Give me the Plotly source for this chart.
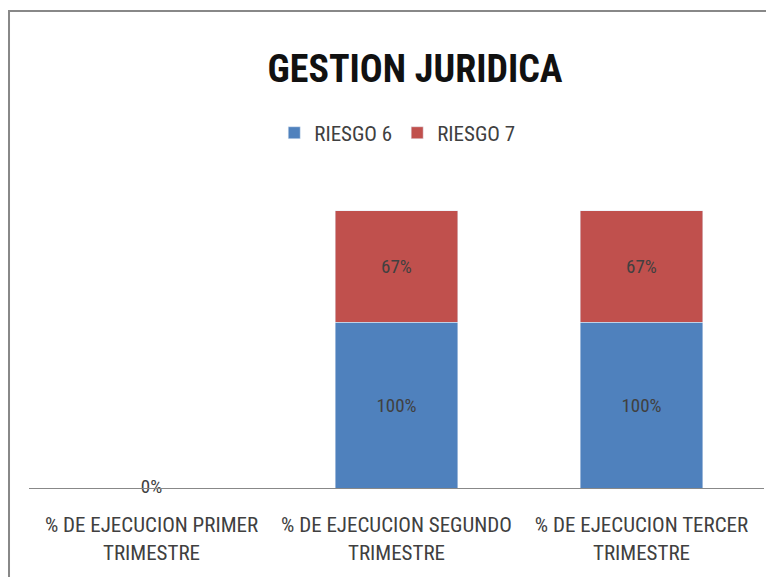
import plotly.graph_objects as go

categories = ["% DE EJECUCION PRIMER<br>TRIMESTRE",
              "% DE EJECUCION SEGUNDO<br>TRIMESTRE",
              "% DE EJECUCION TERCER<br>TRIMESTRE"]
riesgo6 = [0, 100, 100]
riesgo7 = [0, 67, 67]

FONT = "Liberation Sans Narrow, Roboto Condensed, DejaVu Sans Condensed, Arial Narrow, sans-serif"
BLUE = "#4F81BD"
RED = "#C0504D"
TXT = "#404040"

fig = go.Figure()
fig.add_trace(go.Bar(
    x=categories, y=riesgo6, name="RIESGO 6", marker_color=BLUE,
    text=[f"{v}%" if v else "" for v in riesgo6], textposition="inside",
    insidetextanchor="middle", textfont=dict(color=TXT, size=19, family=FONT),
))
fig.add_trace(go.Bar(
    x=categories, y=riesgo7, name="RIESGO 7", marker_color=RED,
    text=[f"{v}%" if v else "" for v in riesgo7], textposition="inside",
    insidetextanchor="middle", textfont=dict(color=TXT, size=19, family=FONT),
))
zero_x = [c for c, a, b in zip(categories, riesgo6, riesgo7) if a + b == 0]
fig.add_trace(go.Scatter(
    x=zero_x, y=[0] * len(zero_x), mode="text", text=["0%"] * len(zero_x),
    textposition="middle center", textfont=dict(color=TXT, size=19, family=FONT),
    showlegend=False, cliponaxis=False, hoverinfo="skip",
))

fig.update_layout(
    barmode="stack",
    bargap=0.5,
    width=758, height=569,
    margin=dict(l=21, r=2, t=148, b=89, autoexpand=False),
    paper_bgcolor="white", plot_bgcolor="white",
    title=dict(text="<b>GESTION JURIDICA</b>", x=0.537, xanchor="center",
               y=0.893, yanchor="middle",
               font=dict(family=FONT, size=38, color="#111111")),
    legend=dict(orientation="h", x=0.501, xanchor="center", y=1.069, yanchor="middle",
                font=dict(family=FONT, size=21, color=TXT), itemwidth=30,
                traceorder="normal"),
    xaxis=dict(showline=True, linecolor="#888888", linewidth=1, ticks="",
               ticklabelstandoff=18,
               tickfont=dict(family=FONT, size=21, color=TXT), showgrid=False),
    yaxis=dict(range=[0, 200], visible=False, showgrid=False, zeroline=False),
    showlegend=True,
)
fig.add_shape(type="rect", xref="paper", yref="paper",
              x0=-0.0272, x1=1.5, y0=-1, y1=1.437,
              line=dict(color="#888888", width=2), layer="above")

fig.write_html("out.html")
